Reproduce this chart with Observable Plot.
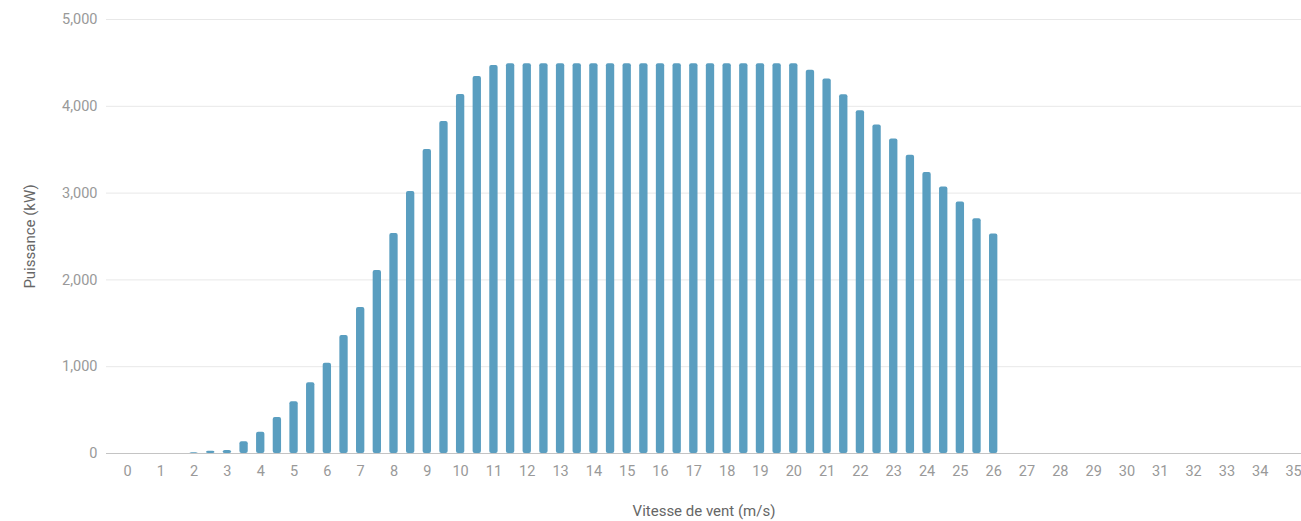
<!DOCTYPE html>
<html>
<head>
<meta charset="utf-8">
<script src="https://cdn.jsdelivr.net/npm/d3@7"></script>
<script src="https://cdn.jsdelivr.net/npm/@observablehq/plot@0.6"></script>
<style>
  html, body { margin: 0; padding: 0; background: #fff; }
  #chart svg { display: block; }
</style>
</head>
<body>
<div id="chart"></div>
<script>
const speeds = [0, 0.5, 1, 1.5, 2, 2.5, 3, 3.5, 4, 4.5, 5, 5.5, 6, 6.5, 7, 7.5, 8, 8.5, 9, 9.5,
  10, 10.5, 11, 11.5, 12, 12.5, 13, 13.5, 14, 14.5, 15, 15.5, 16, 16.5, 17, 17.5, 18, 18.5, 19, 19.5,
  20, 20.5, 21, 21.5, 22, 22.5, 23, 23.5, 24, 24.5, 25, 25.5, 26, 26.5, 27, 27.5, 28, 28.5, 29, 29.5,
  30, 30.5, 31, 31.5, 32, 32.5, 33, 33.5, 34, 34.5, 35];
const power = [0, 0, 0, 0, 10, 25, 35, 135, 245, 415, 596, 815, 1040, 1360, 1682, 2108, 2535, 3018, 3502, 3825,
  4136, 4343, 4470, 4490, 4490, 4490, 4490, 4490, 4490, 4490, 4490, 4490, 4490, 4490, 4490, 4490, 4490, 4490, 4490, 4490,
  4490, 4414, 4314, 4134, 3950, 3785, 3624, 3437, 3238, 3069, 2897, 2705, 2529, 0, 0, 0, 0, 0, 0, 0,
  0, 0, 0, 0, 0, 0, 0, 0, 0, 0, 0];
const xTicks = [0, 1, 2, 3, 4, 5, 6, 7, 8, 9, 10, 11, 12, 13, 14, 15, 16, 17, 18, 19, 20,
  21, 22, 23, 24, 25, 26, 27, 28, 29, 30, 31, 32, 33, 34, 35];
const yTicks = [0, 1000, 2000, 3000, 4000, 5000];
const xLabel = "Vitesse de vent (m/s)";
const yLabel = "Puissance (kW)";

const data = speeds.map((s, i) => ({speed: s, power: power[i]}));

const chart = Plot.plot({
  width: 1301,
  height: 521,
  marginTop: 19,
  marginBottom: 68,
  marginLeft: 106,
  marginRight: 0,
  style: {fontFamily: "Roboto, sans-serif", fontSize: "14.5px", color: "#999", background: "#fff"},
  x: {type: "band", domain: speeds, range: [122.8, 1297.2], paddingInner: 0.5, paddingOuter: 0},
  y: {domain: [0, 5000]},
  marks: [
    Plot.gridY(yTicks, {stroke: "#e8e8e8", strokeOpacity: 1}),
    Plot.axisY(yTicks, {tickSize: 0, tickPadding: 9, tickFormat: d3.format(","), fill: "#999",
      label: null}),
    Plot.axisY({label: yLabel, labelArrow: "none", labelAnchor: "center", labelOffset: 82,
      tickSize: 0, ticks: [], color: "#666", fontSize: 15}),
    Plot.axisX(xTicks, {tickSize: 0, tickPadding: 12, fill: "#999", label: null}),
    Plot.axisX({label: xLabel, labelArrow: "none", labelAnchor: "center", labelOffset: 62,
      tickSize: 0, ticks: [], color: "#666", fontSize: 15, dx: 8}),
    Plot.barY(data.filter(d => d.power > 0), {x: "speed", y: "power", fill: "#5a9ec0", rx: 2}),
    Plot.ruleY([0], {stroke: "#c4c4c4"})
  ]
});
document.getElementById("chart").appendChild(chart);
</script>
</body>
</html>
